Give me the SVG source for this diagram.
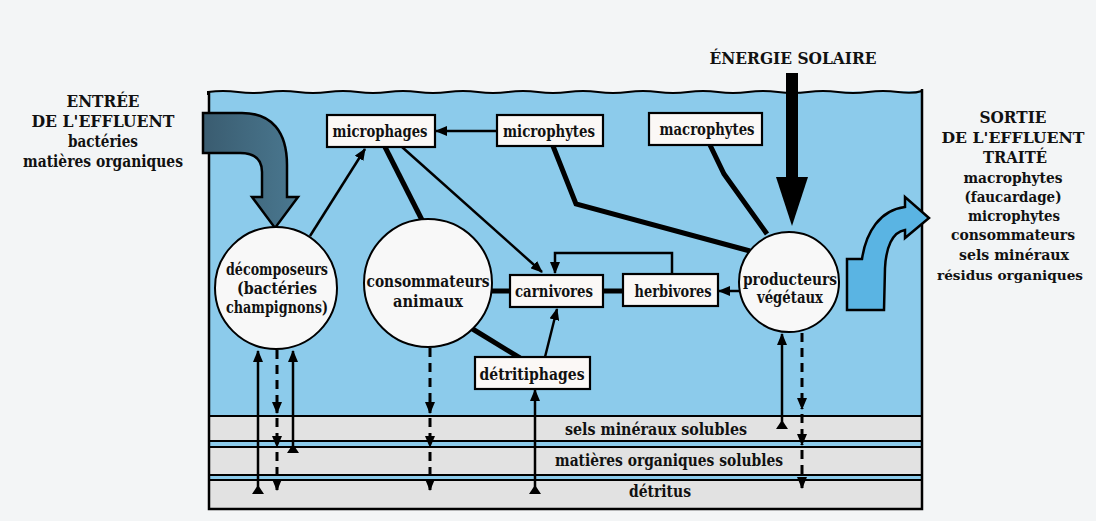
<svg xmlns="http://www.w3.org/2000/svg" width="1096" height="521" viewBox="0 0 1096 521">
<style>
text{font-family:"DejaVu Serif","Liberation Serif",serif;font-weight:bold;fill:#111;text-anchor:middle;font-size:17px}
.r{font-size:15px}
.s{font-size:13px}
.box{fill:#fbf8f6;stroke:#000;stroke-width:2.2}
.circ{fill:#f8f8f8;stroke:#000;stroke-width:2}
.thin{stroke:#000;stroke-width:2.5;fill:none}
.thick{stroke:#000;stroke-width:5;fill:none}
.dash{stroke:#000;stroke-width:3;fill:none;stroke-dasharray:9 6}
.grey{fill:#e2e2e2}
.ln{stroke:#000;stroke-width:2}
</style>
<defs>
<marker id="ah" markerUnits="userSpaceOnUse" markerWidth="12" markerHeight="10" refX="11" refY="5" orient="auto"><path d="M0,0 L12,5 L0,10 z" fill="#000"/></marker>
<linearGradient id="gin" x1="0" y1="0" x2="1" y2="0"><stop offset="0" stop-color="#3a5c70"/><stop offset="1" stop-color="#4a7890"/></linearGradient>
</defs>
<rect width="1096" height="521" fill="#f3f5f6"/>
<g id="tank">
<rect x="209" y="92" width="713" height="417" fill="#8ccbeb"/>
<path d="M208,95 L208,92 q15,-2 30,0 t30,0 t30,0 t30,0 t30,0 t30,0 t30,0 t30,0 t30,0 t30,0 t30,0 t30,0 t30,0 t30,0 t30,0 t30,0 t30,0 t30,0 t30,0 t30,0 t30,0 t30,0 t30,0 t24,-1" fill="#8ccbeb" stroke="#000" stroke-width="2"/>
<rect x="209" y="416" width="713" height="25" class="grey"/>
<rect x="209" y="447" width="713" height="28" class="grey"/>
<rect x="209" y="480" width="713" height="28" class="grey"/>
<line x1="209" y1="416" x2="922" y2="416" class="ln"/>
<line x1="209" y1="441" x2="922" y2="441" class="ln" stroke-width="2.5"/>
<line x1="209" y1="447" x2="922" y2="447" class="ln" stroke-width="2.5"/>
<line x1="209" y1="475" x2="922" y2="475" class="ln" stroke-width="2.5"/>
<line x1="209" y1="480" x2="922" y2="480" class="ln" stroke-width="2.5"/>
<path d="M209,91 L209,509 L922,509 L922,89" fill="none" stroke="#000" stroke-width="2.5"/>
<text x="656" y="435" textLength="182" lengthAdjust="spacingAndGlyphs">sels minéraux solubles</text>
<text x="669" y="466" textLength="228" lengthAdjust="spacingAndGlyphs">matières organiques solubles</text>
<text x="660" y="497" textLength="62" lengthAdjust="spacingAndGlyphs">détritus</text>
</g>
<g id="entree">
<path d="M203,113 L242,113 C272,113 287,132 287,165 L287,197 L298,197 L275,228 L252,197 L262,197 L262,172 C262,159 254,153 240,153 L203,153 Z" fill="url(#gin)" stroke="#000" stroke-width="2.5"/>
<text x="103" y="107" textLength="73" lengthAdjust="spacingAndGlyphs">ENTRÉE</text>
<text x="103" y="127" textLength="143" lengthAdjust="spacingAndGlyphs">DE  L'EFFLUENT</text>
<text x="103" y="147" textLength="70" lengthAdjust="spacingAndGlyphs">bactéries</text>
<text x="103" y="167" textLength="160" lengthAdjust="spacingAndGlyphs">matières  organiques</text>
</g>
<g id="sortie">
<path d="M847,310 L847,259 L862,259 C866,232 880,210 905,207 L905,197 L929,218 L905,238 L905,230 C892,232 886,248 885,268 L884,310 Z" fill="#5ab4e3" stroke="#000" stroke-width="2.5"/>
<text x="1013" y="123" textLength="67" lengthAdjust="spacingAndGlyphs">SORTIE</text>
<text x="1013" y="143" class="r" textLength="143" lengthAdjust="spacingAndGlyphs">DE  L'EFFLUENT</text>
<text x="1015" y="163" textLength="64" lengthAdjust="spacingAndGlyphs">TRAITÉ</text>
<text x="1013" y="183" class="r" textLength="99" lengthAdjust="spacingAndGlyphs">macrophytes</text>
<text x="1013" y="202" class="r" textLength="97" lengthAdjust="spacingAndGlyphs">(faucardage)</text>
<text x="1014" y="221" class="r" textLength="92" lengthAdjust="spacingAndGlyphs">microphytes</text>
<text x="1013" y="240" class="r" textLength="124" lengthAdjust="spacingAndGlyphs">consommateurs</text>
<text x="1014" y="260" class="r" textLength="110" lengthAdjust="spacingAndGlyphs">sels  minéraux</text>
<text x="1010" y="280" class="s" textLength="146" lengthAdjust="spacingAndGlyphs">résidus  organiques</text>
</g>
<g id="soleil">
<text x="793" y="64" textLength="167" lengthAdjust="spacingAndGlyphs">ÉNERGIE  SOLAIRE</text>
<rect x="786" y="73" width="12" height="106" fill="#000"/>
<polygon points="776,177 808,177 792,226" fill="#000"/>
</g>
<g id="connectors">
<line x1="497" y1="131" x2="436" y2="131" class="thin" stroke-width="3" marker-end="url(#ah)"/>
<line x1="310" y1="236" x2="365" y2="149" class="thin" marker-end="url(#ah)"/>
<line x1="402" y1="147" x2="542" y2="272" class="thin" marker-end="url(#ah)"/>
<line x1="385" y1="147" x2="422" y2="220" class="thick"/>
<polyline points="553,146 576,204 750,251" class="thick" stroke-linejoin="miter"/>
<path d="M710,145 L724,174 L767,234" class="thick"/>
<line x1="490" y1="291" x2="511" y2="291" class="thick"/>
<line x1="602" y1="291" x2="624" y2="291" class="thick"/>
<polyline points="672,274 672,253 555,253 555,273" class="thin" marker-end="url(#ah)"/>
<line x1="741" y1="291" x2="719" y2="291" class="thin" stroke-width="4" marker-end="url(#ah)"/>
<line x1="545" y1="357" x2="557" y2="309" class="thin" marker-end="url(#ah)"/>
<line x1="471" y1="328" x2="520" y2="358" class="thick"/>
<line x1="258" y1="490" x2="258" y2="351" class="thin" marker-end="url(#ah)"/>
<polygon points="252,494 264,494 258,485" fill="#000"/>
<line x1="277" y1="350" x2="277" y2="413" class="dash" marker-end="url(#ah)"/>
<line x1="277" y1="418" x2="277" y2="447" class="dash" marker-end="url(#ah)"/>
<line x1="277" y1="452" x2="277" y2="490" class="dash" marker-end="url(#ah)"/>
<line x1="293" y1="450" x2="293" y2="351" class="thin" marker-end="url(#ah)"/>
<polygon points="287,453 299,453 293,444" fill="#000"/>
<line x1="430" y1="348" x2="430" y2="413" class="dash" marker-end="url(#ah)"/>
<line x1="430" y1="418" x2="430" y2="447" class="dash" marker-end="url(#ah)"/>
<line x1="430" y1="452" x2="430" y2="490" class="dash" marker-end="url(#ah)"/>
<line x1="535" y1="490" x2="535" y2="390" class="thin" marker-end="url(#ah)"/>
<polygon points="529,494 541,494 535,485" fill="#000"/>
<line x1="782" y1="425" x2="782" y2="334" class="thin" marker-end="url(#ah)"/>
<polygon points="776,429 788,429 782,420" fill="#000"/>
<line x1="802" y1="333" x2="802" y2="409" class="dash" marker-end="url(#ah)"/>
<line x1="802" y1="414" x2="802" y2="445" class="dash" marker-end="url(#ah)"/>
<line x1="802" y1="450" x2="802" y2="488" class="dash" marker-end="url(#ah)"/>
</g>
<g id="microphages"><rect x="327" y="115" width="108" height="32" class="box"/><text x="380" y="137" textLength="95" lengthAdjust="spacingAndGlyphs">microphages</text></g>
<g id="microphytes"><rect x="497" y="115" width="106" height="31" class="box"/><text x="549" y="137" textLength="92" lengthAdjust="spacingAndGlyphs">microphytes</text></g>
<g id="macrophytes"><rect x="649" y="113" width="113" height="32" class="box"/><text x="707" y="135" textLength="95" lengthAdjust="spacingAndGlyphs">macrophytes</text></g>
<g id="carnivores"><rect x="510" y="275" width="93" height="32" class="box"/><text x="554" y="297" textLength="78" lengthAdjust="spacingAndGlyphs">carnivores</text></g>
<g id="herbivores"><rect x="623" y="274" width="95" height="32" class="box"/><text x="673" y="297" textLength="77" lengthAdjust="spacingAndGlyphs">herbivores</text></g>
<g id="detritiphages"><rect x="475" y="357" width="115" height="32" class="box"/><text x="532" y="380" textLength="105" lengthAdjust="spacingAndGlyphs">détritiphages</text></g>
<g id="decomposeurs"><circle cx="276" cy="288" r="61" class="circ"/>
<text x="277" y="275" textLength="102" lengthAdjust="spacingAndGlyphs">décomposeurs</text>
<text x="277" y="294" textLength="80" lengthAdjust="spacingAndGlyphs">(bactéries</text>
<text x="277" y="313" textLength="102" lengthAdjust="spacingAndGlyphs">champignons)</text></g>
<g id="consommateurs"><circle cx="428" cy="283" r="64" class="circ"/>
<text x="428" y="287" textLength="123" lengthAdjust="spacingAndGlyphs">consommateurs</text>
<text x="428" y="307" textLength="70" lengthAdjust="spacingAndGlyphs">animaux</text></g>
<g id="producteurs"><circle cx="789" cy="282" r="50" class="circ"/>
<text x="790" y="285" textLength="94" lengthAdjust="spacingAndGlyphs">producteurs</text>
<text x="790" y="303" textLength="66" lengthAdjust="spacingAndGlyphs">végétaux</text></g>
</svg>
